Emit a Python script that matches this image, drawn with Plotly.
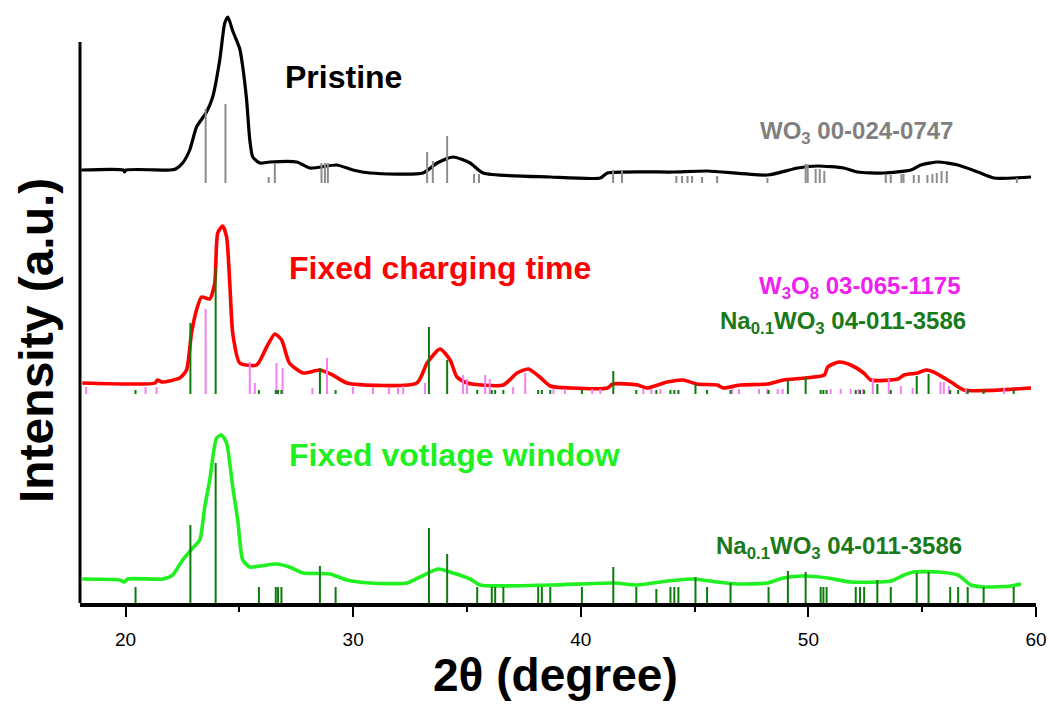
import plotly.graph_objects as go

# ---------------- data (2theta in degrees, intensity in a.u.) ----------------
tt_pristine = [18.06, 19.90, 19.96, 20.02, 21.94, 22.2, 22.51, 22.82, 23.12, 23.56, 23.83, 24.14,
               24.36, 24.5, 24.71, 25.02, 25.15, 25.32, 25.46, 25.59, 25.90, 26.34, 27.52, 28.10,
               29.28, 29.99, 30.74, 33.07, 33.69, 34.39, 35.14, 35.71, 38.66, 40.86, 41.17, 44.07,
               45.57, 48.21, 49.53, 50.41, 51.55, 52.17, 53.31, 54.5, 54.94, 55.69, 56.57, 57.45,
               58.15, 59.78]
i_pristine = [13, 13, 11, 13, 13, 14, 20, 33, 56, 71, 86, 123,
              160, 166, 152, 134, 116, 83, 43, 26, 20, 21, 21, 15,
              18, 13, 10, 10, 20, 26, 20, 10, 6, 5, 10, 11,
              12, 8, 15, 17, 15, 11, 10, 13, 18, 21, 18, 11,
              5, 6]

tt_charging = [18.1, 21.3, 21.4, 21.6, 22.38, 22.68, 22.9, 23.12, 23.34, 23.70, 23.92, 24.05,
               24.27, 24.44, 24.58, 24.71, 25.02, 25.76, 26.2, 26.56, 26.86, 27.2, 27.8, 28.54,
               29.1, 29.73, 32.8, 33.25, 33.82, 34.26, 34.56, 35.0, 36.6, 37.2, 37.7, 38.2,
               38.66, 39.54, 41.17, 41.4, 42.5, 42.9, 43.8, 44.5, 45.1, 46.0, 46.27, 47.0,
               48.2, 48.9, 50.7, 50.85, 51.35, 51.86, 52.43, 52.74, 53.93, 54.2, 54.8, 55.16,
               55.5, 56.26, 56.83, 59.78]
i_charging = [11, 11, 14, 12, 16, 24, 61, 84, 97, 95, 111, 161,
              168, 157, 111, 61, 31, 29, 47, 60, 54, 31, 21, 24,
              19, 11, 11, 31, 45, 34, 17, 11, 9, 21, 25, 17,
              8, 6, 6, 10, 9, 6, 12, 14, 10, 9, 6, 9,
              10, 14, 19, 27, 32, 29, 21, 14, 15, 19, 21, 24,
              22, 12, 4, 6]

tt_voltage = [18.1, 19.74, 19.96, 20.1, 21.63, 22.07, 22.51, 22.95, 23.26, 23.48, 23.7, 24.0,
              24.22, 24.44, 24.71, 24.93, 25.15, 25.46, 25.9, 26.64, 27.2, 27.8, 28.98, 29.73,
              30.74, 32.37, 32.94, 33.73, 34.39, 35.14, 35.58, 38.66, 41.43, 42.5, 43.8, 44.95,
              46.0, 46.9, 48.2, 48.9, 49.8, 50.85, 51.86, 53.62, 54.2, 54.63, 55.69, 56.57,
              57.14, 57.71, 58.9, 59.34]
i_voltage = [24, 23, 21, 24, 24, 28, 43, 55, 63, 96, 123, 165,
             168, 160, 116, 83, 43, 36, 37, 39, 36, 30, 29, 23,
             20, 20, 26, 34, 30, 24, 18, 18, 20, 18, 22, 24,
             21, 19, 20, 25, 27, 25, 21, 22, 28, 31, 31, 28,
             18, 16, 17, 19]

# reference patterns
wo3_pos = [23.52, 24.39, 26.29, 26.56, 28.61, 28.76, 28.89, 33.25, 33.5, 34.13, 35.31, 35.53,
           41.42, 41.81, 44.2, 44.45, 44.69, 44.89, 45.33, 45.99, 48.2, 49.88, 49.97, 50.32,
           50.5, 50.7, 53.4, 53.62, 54.09, 54.18, 54.63, 54.85, 55.23, 55.45, 55.64, 55.85,
           56.08, 59.16]
wo3_int = [74, 79, 6, 19, 20, 20, 20, 31, 22, 47, 9, 9,
           13, 13, 7, 7, 7, 7, 6, 7, 5, 19, 19, 14,
           14, 12, 8, 8, 9, 9, 8, 8, 8, 9, 10, 12,
           12, 5]

w3o8_pos = [18.27, 20.88, 21.36, 23.52, 25.46, 25.68, 26.63, 26.9, 28.21, 28.85, 29.99, 30.87,
            31.57, 31.97, 32.2, 33.16, 34.83, 35.0, 35.8, 36.0, 37.03, 37.56, 38.8, 39.3,
            40.5, 40.86, 42.75, 43.1, 43.5, 46.66, 46.95, 47.83, 48.2, 48.65, 48.87, 50.98,
            51.42, 51.86, 52.2, 52.4, 52.83, 53.53, 54.06, 54.58, 55.8, 55.95, 56.17, 56.92,
            58.6]
w3o8_int = [7, 7, 7, 85, 32, 11, 31, 26, 6, 36, 7, 7,
            6, 6, 8, 11, 19, 15, 19, 15, 7, 21, 5, 5,
            5, 5, 5, 5, 5, 5, 5, 5, 5, 5, 5, 5,
            5, 5, 5, 5, 15, 15, 8, 6, 12, 12, 8, 5,
            6]

na_pos = [20.44, 22.85, 23.96, 25.86, 26.6, 26.7, 26.85, 28.54, 29.23, 33.33, 34.13, 35.45,
          36.09, 36.24, 36.6, 38.13, 38.29, 38.66, 40.05, 41.43, 42.44, 43.32, 43.94, 44.11,
          44.29, 45.04, 45.55, 46.58, 48.25, 49.1, 49.88, 50.54, 50.66, 50.8, 52.08, 52.27,
          52.45, 53.03, 53.62, 54.76, 55.28, 56.23, 56.58, 57.0, 57.7, 59.02]
na_int_charging = [4, 71, 126, 4, 4, 4, 4, 26, 4, 67, 34, 4,
                   4, 4, 4, 4, 4, 4, 4, 23, 4, 4, 4, 4,
                   4, 10, 4, 4, 4, 14, 17, 4, 4, 4, 4, 4,
                   4, 10, 4, 18, 20, 4, 4, 4, 4, 4]
na_int_voltage = [16, 78, 140, 16, 16, 16, 16, 37, 16, 75, 49, 16,
                  16, 16, 16, 16, 16, 16, 16, 36, 16, 14, 16, 16,
                  16, 26, 16, 20, 16, 32, 31, 16, 16, 16, 16, 16,
                  16, 23, 16, 30, 31, 16, 16, 16, 16, 16]

offset_pristine = 420
offset_charging = 209
offset_voltage = 0

x_ticks = [20, 30, 40, 50, 60]

FONT = "Liberation Sans, Arial, sans-serif"


def shifted(vals, off):
    return [v + off for v in vals]


def sticks(pos, hts, base):
    xs, ys = [], []
    for p, h in zip(pos, hts):
        xs += [p, p, None]
        ys += [base, base + h, None]
    return xs, ys


fig = go.Figure()

# curves
fig.add_trace(go.Scatter(x=tt_pristine, y=shifted(i_pristine, offset_pristine), mode="lines",
                         line=dict(color="black", width=3.2, shape="spline", smoothing=0.6)))
fig.add_trace(go.Scatter(x=tt_charging, y=shifted(i_charging, offset_charging), mode="lines",
                         line=dict(color="#ff0000", width=3.6, shape="spline", smoothing=0.6)))
fig.add_trace(go.Scatter(x=tt_voltage, y=shifted(i_voltage, offset_voltage), mode="lines",
                         line=dict(color="#1ff01f", width=3.6, shape="spline", smoothing=0.6)))

# stick patterns
sx, sy = sticks(wo3_pos, wo3_int, offset_pristine)
fig.add_trace(go.Scatter(x=sx, y=sy, mode="lines", line=dict(color="#8c8c8c", width=2)))
sx, sy = sticks(w3o8_pos, w3o8_int, offset_charging)
fig.add_trace(go.Scatter(x=sx, y=sy, mode="lines", line=dict(color="#f280f0", width=2)))
sx, sy = sticks(na_pos, na_int_charging, offset_charging)
fig.add_trace(go.Scatter(x=sx, y=sy, mode="lines", line=dict(color="#0c7a0c", width=2)))
sx, sy = sticks(na_pos, na_int_voltage, offset_voltage)
fig.add_trace(go.Scatter(x=sx, y=sy, mode="lines", line=dict(color="#0c7a0c", width=2)))

# left axis line (partial height, as in reference)
fig.add_shape(type="line", xref="paper", yref="y", x0=0, x1=0, y0=0, y1=561,
              line=dict(color="black", width=3))

annotations = [
    dict(text="<b>Pristine</b>", x=26.91, y=526, xanchor="left", yanchor="middle",
         font=dict(size=32, color="black")),
    dict(text="<b>Fixed charging time</b>", x=27.08, y=335, xanchor="left", yanchor="middle",
         font=dict(size=32, color="#ff0000")),
    dict(text="<b>Fixed votlage window</b>", x=27.08, y=148, xanchor="left", yanchor="middle",
         font=dict(size=32, color="#1ff01f")),
    dict(text="<b>WO<sub>3</sub> 00-024-0747</b>", x=52.12, y=471, xanchor="center", yanchor="middle",
         font=dict(size=24, color="#808080")),
    dict(text="<b>W<sub>3</sub>O<sub>8</sub> 03-065-1175</b>", x=52.26, y=316, xanchor="center",
         yanchor="middle", font=dict(size=24, color="#f020f0")),
    dict(text="<b>Na<sub>0.1</sub>WO<sub>3</sub> 04-011-3586</b>", x=51.5, y=281, xanchor="center",
         yanchor="middle", font=dict(size=24, color="#1a7a1a")),
    dict(text="<b>Na<sub>0.1</sub>WO<sub>3</sub> 04-011-3586</b>", x=51.33, y=56, xanchor="center",
         yanchor="middle", font=dict(size=24, color="#1a7a1a")),
    dict(text="<b>2θ (degree)</b>", x=38.88, xref="x", y=-0.1214, yref="paper",
         xanchor="center", yanchor="middle", font=dict(size=46, color="black")),
    dict(text="<b>Intensity (a.u.)</b>", xref="paper", x=-0.046, y=262, xanchor="center",
         yanchor="middle", textangle=-90, font=dict(size=48, color="black")),
]
for a in annotations:
    a.setdefault("xref", "x")
    a.setdefault("yref", "y")
    a["showarrow"] = False
    fig.add_annotation(**a)

fig.update_layout(
    width=1049, height=704, autosize=False,
    margin=dict(l=80, r=13, t=10, b=101),
    paper_bgcolor="white", plot_bgcolor="white",
    showlegend=False,
    font=dict(family=FONT, color="black"),
    xaxis=dict(range=[18, 60], tickvals=x_ticks, ticktext=[str(v) for v in x_ticks],
               automargin=False,
               showgrid=False, zeroline=False, showline=True, linecolor="black", linewidth=4,
               ticks="outside", ticklen=10, tickwidth=2, tickcolor="black",
               tickfont=dict(size=19, family=FONT, color="black"), ticklabelstandoff=6,
               minor=dict(ticks="outside", dtick=5, tick0=0, ticklen=5, tickwidth=2,
                          tickcolor="black", showgrid=False)),
    yaxis=dict(range=[0, 593], automargin=False, showgrid=False, zeroline=False, showline=False,
               showticklabels=False, ticks=""),
)

# zero page margin so the fixed-size figure fills the window exactly
fig.write_html("out.html",
               config={"displayModeBar": False, "responsive": False},
               post_script="document.body.style.margin='0';document.body.style.overflow='hidden';")
